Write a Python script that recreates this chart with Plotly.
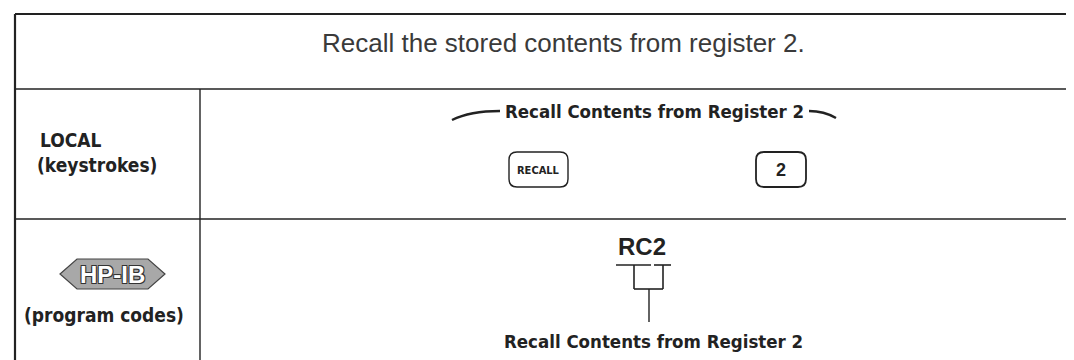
import plotly.graph_objects as go

# ---- content (text values) ----
header_text = ["Recall the stored contents from register 2."]
row_titles = ["LOCAL", "(keystrokes)"]
bus_titles = ["HP-IB", "(program codes)"]
key_labels = ["RECALL", "2"]
function_label = ["Recall Contents from Register 2"]
program_code = ["RC2"]
code_meaning = ["Recall Contents from Register 2"]

W, H = 1074, 360
INK = "#222222"
LBL_FONT = "DejaVu Sans Condensed, Liberation Sans Narrow, Arial Narrow, sans-serif"

fig = go.Figure()
fig.add_trace(go.Scatter(x=[0, W], y=[0, H], mode="markers",
                         marker=dict(opacity=0), hoverinfo="skip", showlegend=False))

shapes = []
def line(x0, y0, x1, y1, w=1.6, c=INK):
    shapes.append(dict(type="line", x0=x0, y0=y0, x1=x1, y1=y1,
                       line=dict(color=c, width=w), layer="above"))

def rrect(x0, y0, x1, y1, r, w=1.4):
    p = (f"M {x0+r} {y0} L {x1-r} {y0} Q {x1} {y0} {x1} {y0+r} "
         f"L {x1} {y1-r} Q {x1} {y1} {x1-r} {y1} L {x0+r} {y1} "
         f"Q {x0} {y1} {x0} {y1-r} L {x0} {y0+r} Q {x0} {y0} {x0+r} {y0} Z")
    shapes.append(dict(type="path", path=p, line=dict(color=INK, width=w),
                       fillcolor="white"))

# table grid
line(7, 6, W, 6, 2.2)
line(7, 6, 7, H, 2.2)
line(7, 81, W, 81, 1.6)
line(7, 211, W, 211, 1.6)
line(192, 81, 192, H, 1.4)

# swooshes around the function label
shapes.append(dict(type="path", path="M 444 112 Q 462 103 492 103",
                   line=dict(color=INK, width=2.4)))
shapes.append(dict(type="path", path="M 801 103 Q 816 103 828 110",
                   line=dict(color=INK, width=2.4)))

# keys
rrect(501, 144, 560, 179, 8)
rrect(748, 144, 798, 179, 8, 1.8)

# HP-IB logo (double-headed arrow)
shapes.append(dict(type="path",
                   path="M 52 266 L 69 251 L 140 251 L 157 266 L 140 281 L 69 281 Z",
                   line=dict(color="#444444", width=1.2), fillcolor="#a8a8a8"))

# RC2 bracket
line(608, 257, 643, 257, 1.6)
line(646, 257, 663, 257, 1.6)
line(626, 257, 626, 281, 1.6)
line(655, 257, 655, 281, 1.6)
line(626, 281, 655, 281, 1.6)
line(641, 281, 641, 314, 1.4)

ann = []
def text(x, y, s, size, family=LBL_FONT, weight="bold", color=INK, xanchor="center", shadow=None):
    f = dict(family=family, size=size, color=color, weight=weight)
    if shadow:
        f["shadow"] = shadow
    ann.append(dict(x=x, y=y, text=s, showarrow=False, xanchor=xanchor,
                    yanchor="middle", font=f))

text(555, 35, header_text[0], 26, family="Liberation Sans, Arial, sans-serif",
     weight="normal", color="#3a3a3a")
text(30, 132, row_titles[0], 19, xanchor="left")
text(27, 157, row_titles[1], 19, xanchor="left")
text(646, 103, function_label[0], 18.5)
text(530.5, 162, key_labels[0], 11)
text(773, 162, key_labels[1], 18, family="Liberation Sans, Arial, sans-serif")
text(104.5, 266.5, bus_titles[0], 24, family="Liberation Sans, Arial, sans-serif",
     color="white",
     shadow="-1px -1px 0 #333, 1px -1px 0 #333, -1px 1px 0 #333, 1px 1px 0 #333")
text(96, 307, bus_titles[1], 19)
text(634, 238, program_code[0], 24, family="Liberation Sans, Arial, sans-serif")
text(645, 333, code_meaning[0], 18.5)

fig.update_layout(
    width=W, height=H, margin=dict(l=0, r=0, t=0, b=0),
    paper_bgcolor="white", plot_bgcolor="white",
    xaxis=dict(range=[0, W], visible=False, fixedrange=True),
    yaxis=dict(range=[H, 0], visible=False, fixedrange=True),
    shapes=shapes, annotations=ann, showlegend=False,
)
fig.write_html("out.html")
